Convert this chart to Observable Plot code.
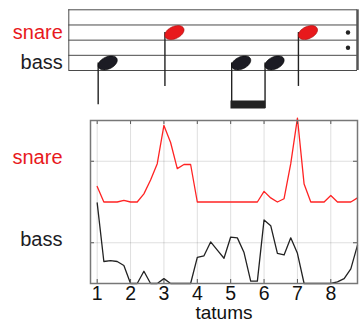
<!DOCTYPE html>
<html>
<head>
<meta charset="utf-8">
<script src="https://cdn.jsdelivr.net/npm/d3@7"></script>
<script src="https://cdn.jsdelivr.net/npm/@observablehq/plot@0.6"></script>
<style>
  html, body { margin: 0; padding: 0; background: white; }
  #chart svg { display: block; }
</style>
</head>
<body>
<div id="chart"></div>
<script>
// ---- data ----
const tatums = [1.0, 1.2, 1.4, 1.6, 1.8, 2.0, 2.2, 2.4, 2.6, 2.8,
                3.0, 3.2, 3.4, 3.6, 3.8, 4.0, 4.2, 4.4, 4.6, 4.8,
                5.0, 5.2, 5.4, 5.6, 5.8, 6.0, 6.2, 6.4, 6.6, 6.8,
                7.0, 7.2, 7.4, 7.6, 7.8, 8.0, 8.2, 8.4, 8.6, 8.8];
const snare = [0.19, 0, 0, 0, 0.02, 0, 0, 0.10, 0.27, 0.47,
               0.94, 0.73, 0.41, 0.46, 0.46, 0, 0, 0, 0, 0,
               0, 0, 0, 0, 0, 0.13, 0.05, 0, 0.04, 0.47,
               1.03, 0.22, 0, 0, 0, 0.08, 0, 0, 0, 0.05];
const bass = [0.99, 0.27, 0.28, 0.27, 0.22, 0, 0, 0.15, 0, 0,
              0.06, 0, 0, 0, 0, 0.32, 0.34, 0.51, 0.41, 0.31,
              0.57, 0.56, 0.38, 0.03, 0.03, 0.78, 0.71, 0.37, 0.35, 0.56,
              0.37, 0, 0, 0, 0, 0, 0.02, 0.06, 0.18, 0.47];
const xTicks = [1, 2, 3, 4, 5, 6, 7, 8];
const rows = ["bass", "snare"];          // lower row, upper row
const axisLabel = "tatums";
// score: beat and drum of each note; beamed notes share a beam group
const noteBeats = [1, 3, 5, 6, 7];
const noteDrums = ["bass", "snare", "bass", "bass", "snare"];
const noteBeams = [null, null, 1, 1, null];
const staffLines = [0, 1, 2, 3, 4];
const repeatDots = [1.5, 2.5];

// ---- derived tables ----
const table = tatums.map((t, i) => ({t, snare: snare[i], bass: bass[i]}));
const notes = noteBeats.map((b, i) => ({beat: b, drum: noteDrums[i], beam: noteBeams[i]}));
const red = "#e8191c";
const dark = "#1c1c24";
const colorOf = d => d === "snare" ? red : dark;
const staffPos = {bass: 0.5, snare: 2.5};
const beams = d3.groups(notes.filter(n => n.beam != null), n => n.beam)
  .map(([k, g]) => ({x1: d3.min(g, n => n.beat), x2: d3.max(g, n => n.beat)}));

const W = 359, mL = 90, mR = 2;
const xDomain = [0.8, 8.8];
const pxPerUnit = (W - mL - mR) / (xDomain[1] - xDomain[0]);
const staffLeft = xDomain[0] - 21.7 / pxPerUnit;
const font = "'Liberation Sans', Arial, sans-serif";

const noteHead = {
  draw(ctx) {
    const a = 10.2, b = 6.1, th = -25 * Math.PI / 180;
    for (let k = 0; k <= 40; k++) {
      const u = k / 40 * 2 * Math.PI;
      const x = a * Math.cos(u), y = b * Math.sin(u);
      const X = x * Math.cos(th) - y * Math.sin(th);
      const Y = x * Math.sin(th) + y * Math.cos(th);
      if (k === 0) ctx.moveTo(X, Y); else ctx.lineTo(X, Y);
    }
    ctx.closePath();
  }
};
const stemEnd = n => n.drum === "snare" ? -1.05 : (n.beam != null ? -2.5 : -2.25);

// ---- score (top) ----
const score = Plot.plot({
  width: W, height: 112,
  marginLeft: mL, marginRight: mR, marginTop: 9.3, marginBottom: 42,
  x: {domain: xDomain, axis: null},
  y: {domain: [0, 4], axis: null},
  style: {fontFamily: font, fontSize: "20px", background: "white", overflow: "visible"},
  marks: [
    Plot.ruleY(staffLines, {y: d => d, x1: staffLeft, x2: xDomain[1], stroke: "#4a4a4a", strokeWidth: 1}),
    Plot.ruleX([staffLeft], {y1: 0, y2: 4, stroke: "#4a4a4a", strokeWidth: 1}),
    Plot.ruleX([xDomain[1]], {y1: 0, y2: 4, stroke: "#555", strokeWidth: 2.5}),
    Plot.dot(repeatDots, {y: d => d, frameAnchor: "right", dx: -9.5, r: 2.2, fill: "#222"}),
    Plot.ruleX(notes, {x: "beat", y1: n => staffPos[n.drum], y2: stemEnd, dx: 1, stroke: "#222", strokeWidth: 1.4}),
    Plot.ruleY(beams, {x1: "x1", x2: "x2", y: -2.24, dx: 1, insetLeft: -0.7, insetRight: -0.7, stroke: "#222", strokeWidth: 8}),
    Plot.dot(notes, {x: "beat", y: n => staffPos[n.drum], symbol: noteHead, dx: 10.5,
      fill: n => colorOf(n.drum), stroke: n => n.drum === "snare" ? "#a01010" : "#000", strokeWidth: 0.6}),
    Plot.text(rows, {x: staffLeft, y: d => staffPos[d], text: d => d, dx: -6, textAnchor: "end",
      fill: colorOf, fontSize: 20})
  ]
});

// ---- activation chart (bottom) ----
const rowY = {bass: 0.5, snare: 1.5};
const frameW = W - mL - mR;
const frameH = 210 - 8 - 39;
const chart = Plot.plot({
  width: W, height: 210,
  marginLeft: mL, marginRight: mR, marginTop: 8, marginBottom: 39,
  x: {domain: xDomain, axis: null},
  y: {domain: [0, 2], axis: null},
  style: {fontFamily: font, fontSize: "20px", background: "white", overflow: "visible"},
  marks: [
    Plot.gridX(xTicks, {stroke: "#000", strokeOpacity: 0.13, strokeWidth: 1}),
    Plot.gridY(rows.map(r => rowY[r]), {stroke: "#000", strokeOpacity: 0.13, strokeWidth: 1}),
    Plot.line(table, {x: "t", y: d => rowY.snare - 0.5 + d.snare, stroke: "#ff2323", strokeWidth: 1.3}),
    Plot.line(table, {x: "t", y: d => rowY.bass - 0.5 + d.bass, stroke: "#222", strokeWidth: 1.3}),
    Plot.tickX(xTicks, {x: d => d, insetTop: frameH - 4, stroke: "#555"}),
    Plot.tickX(xTicks, {x: d => d, insetBottom: frameH - 4, stroke: "#555"}),
    Plot.tickY(rows.map(r => rowY[r]), {y: d => d, insetRight: frameW - 4, stroke: "#555"}),
    Plot.tickY(rows.map(r => rowY[r]), {y: d => d, insetLeft: frameW - 4, stroke: "#555"}),
    Plot.frame({stroke: "#777", strokeWidth: 1.5}),
    Plot.text(xTicks, {x: d => d, text: d => String(d), frameAnchor: "bottom", lineAnchor: "top", dy: 3, fill: "#111", fontSize: 19.5}),
    Plot.text([axisLabel], {text: d => d, frameAnchor: "bottom", lineAnchor: "top", dy: 21.5, fill: "#111", fontSize: 19}),
    Plot.text(rows, {y: d => rowY[d], text: d => d, frameAnchor: "left", dx: -28, dy: -3.5, textAnchor: "end", fill: colorOf, fontSize: 20})
  ]
});

const root = document.getElementById("chart");
root.append(score, chart);
</script>
</body>
</html>
